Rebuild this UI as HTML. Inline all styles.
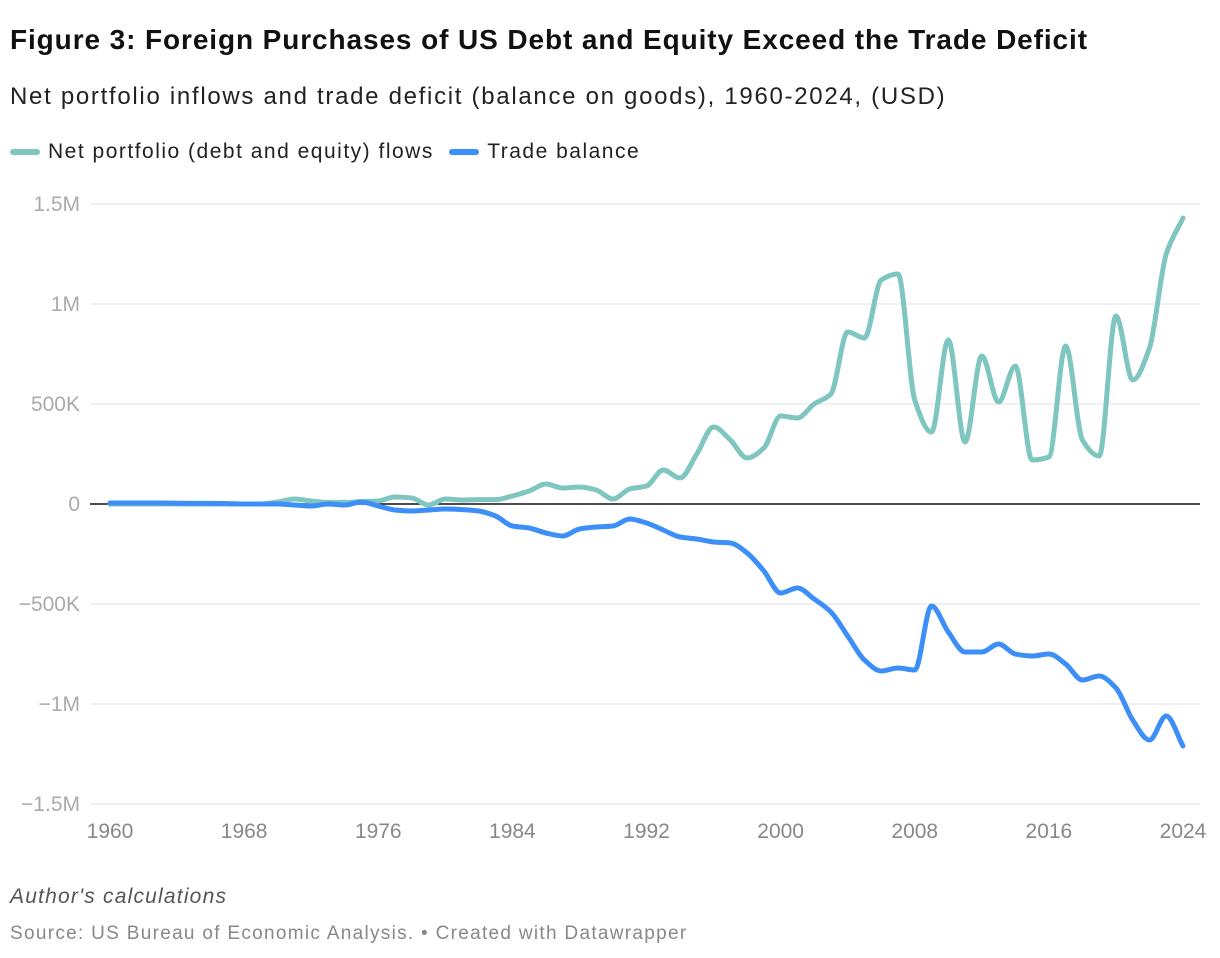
<!DOCTYPE html>
<html><head><meta charset="utf-8"><style>
body{margin:0;background:#fff;font-family:"Liberation Sans",sans-serif;}
#c{position:relative;width:1220px;height:958px;overflow:hidden}
.t{position:absolute;left:10px;white-space:nowrap}
</style></head><body><div id="c">
<div class="t" style="top:24px;font-size:28px;font-weight:bold;color:#111;letter-spacing:0.9px">Figure 3: Foreign Purchases of US Debt and Equity Exceed the Trade Deficit</div>
<div class="t" style="top:83px;font-size:24px;color:#222;letter-spacing:1.7px">Net portfolio inflows and trade deficit (balance on goods), 1960-2024, (USD)</div>
<div class="t" style="top:140px;font-size:21px;color:#222;letter-spacing:1.5px">
<span><span style="display:inline-block;width:30px;height:6px;border-radius:3px;background:#7fc5c0;vertical-align:middle;margin-right:8px"></span>Net portfolio (debt and equity) flows</span>
<span style="margin-left:8px"><span style="display:inline-block;width:30px;height:6px;border-radius:3px;background:#3d8ff7;vertical-align:middle;margin-right:8px"></span>Trade balance</span></div>
<svg id="s" width="1220" height="958" style="position:absolute;left:0;top:0"></svg>
<div class="t" style="top:885px;font-size:21px;font-style:italic;color:#555;letter-spacing:1.2px">Author's calculations</div>
<div class="t" style="top:923px;font-size:19px;color:#888;letter-spacing:1.3px">Source: US Bureau of Economic Analysis. • Created with Datawrapper</div>
</div>
<script>
const years=[];for(let y=1960;y<=2024;y++)years.push(y);
const portfolio=[0,0,0,0,0,0,0,0,0,0,10,25,15,8,8,12,15,35,30,-5,25,20,22,22,40,65,100,80,85,70,25,75,90,170,130,250,385,320,230,280,440,430,500,550,860,830,1120,1150,520,360,820,310,740,510,690,220,235,790,320,240,940,620,780,1250,1430];
const trade=[5,5,5,5,4,3,3,2,0,0,0,-5,-10,0,-5,10,-10,-30,-35,-30,-25,-28,-35,-60,-110,-120,-145,-160,-125,-115,-110,-75,-95,-130,-165,-175,-190,-195,-245,-335,-445,-420,-475,-540,-660,-780,-835,-820,-830,-510,-640,-740,-740,-700,-750,-760,-750,-800,-880,-860,-920,-1080,-1180,-1060,-1210];
const yTicks=[1500,1000,500,0,-500,-1000,-1500];
const yTickLabels=["1.5M","1M","500K","0","\u2212500K","\u22121M","\u22121.5M"];
const xTicks=[1960,1968,1976,1984,1992,2000,2008,2016,2024];
const X=y=>110+(y-1960)*(1073/64);
const Y=v=>504-v*0.2;
const s=document.getElementById('s');const NS='http://www.w3.org/2000/svg';
function mk(t,a,p){const e=document.createElementNS(NS,t);for(const k in a)e.setAttribute(k,a[k]);(p||s).appendChild(e);return e;}
yTicks.forEach((v,i)=>{
 const l=mk('line',{x1:90,x2:1200,y1:Y(v),y2:Y(v),stroke:v===0?'#111':'#e0e0e0','stroke-width':v===0?1.5:1});
 
 
 const t=mk('text',{x:80,y:Y(v)+7,'text-anchor':'end','font-size':21,fill:'#aaa','font-family':'Liberation Sans'});t.textContent=yTickLabels[i];
 
 
});
xTicks.forEach(y=>{const t=mk('text',{x:X(y),y:838,'text-anchor':'middle','font-size':21,fill:'#888','font-family':'Liberation Sans'});t.textContent=y;
 
 });
function path(vals){
 const p=vals.map((v,i)=>[X(years[i]),Y(v)]);const n=p.length;
 const d=[],m=[];for(let i=0;i<n-1;i++)d.push((p[i+1][1]-p[i][1])/(p[i+1][0]-p[i][0]));
 m[0]=d[0];m[n-1]=d[n-2];
 for(let i=1;i<n-1;i++){m[i]=(d[i-1]*d[i]<=0)?0:2/(1/d[i-1]+1/d[i]);}
 let s='M'+p[0][0]+','+p[0][1];
 for(let i=0;i<n-1;i++){const h=(p[i+1][0]-p[i][0])/3;
  s+=`C${p[i][0]+h},${p[i][1]+m[i]*h} ${p[i+1][0]-h},${p[i+1][1]-m[i+1]*h} ${p[i+1][0]},${p[i+1][1]}`;}
 return s;}
const a=mk('path',{d:path(portfolio),fill:'none',stroke:'#7fc5c0','stroke-width':5,'stroke-linejoin':'round','stroke-linecap':'round'});


const b=mk('path',{d:path(trade),fill:'none',stroke:'#3d8ff7','stroke-width':5,'stroke-linejoin':'round','stroke-linecap':'round'});


</script></body></html>
